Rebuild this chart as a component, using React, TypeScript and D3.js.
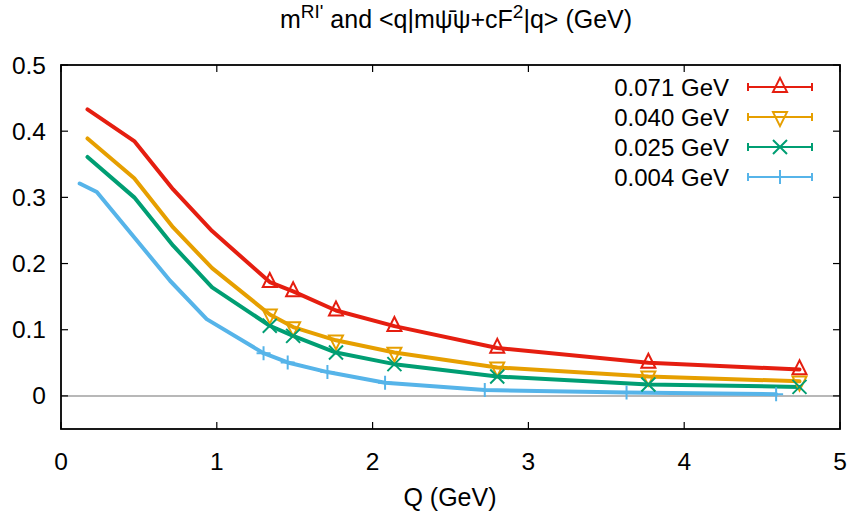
import React from "react";
import * as d3 from "d3";

const W = 853;
const H = 524;

const qMain = [0.17, 0.47, 0.72, 0.97, 1.34, 1.49, 1.765, 2.14, 2.8, 3.77, 4.74];
const qLight = [0.12, 0.23, 0.7, 0.935, 1.3, 1.455, 1.71, 2.08, 2.72, 3.63, 4.59];

const red071 = [0.433, 0.385, 0.312, 0.249, 0.172, 0.158, 0.129, 0.1055, 0.0725, 0.05, 0.04];
const orange040 = [0.389, 0.329, 0.2545, 0.193, 0.123, 0.104, 0.084, 0.0655, 0.043, 0.0295, 0.022];
const green025 = [0.361, 0.3, 0.227, 0.164, 0.106, 0.0907, 0.0655, 0.048, 0.0293, 0.0172, 0.0136];
const blue004 = [0.321, 0.308, 0.174, 0.116, 0.0645, 0.0505, 0.036, 0.02, 0.009, 0.005, 0.0025];

const markerStart = 4;

const legendLabels = ["0.071 GeV", "0.040 GeV", "0.025 GeV", "0.004 GeV"];
const xTicks = [0, 1, 2, 3, 4, 5];
const yTicks = [0, 0.1, 0.2, 0.3, 0.4, 0.5];
const yTickLabels = ["0", "0.1", "0.2", "0.3", "0.4", "0.5"];

type Series = { q: number[]; v: number[]; color: string; marker: string; label: string };

const series: Series[] = [
  { q: qMain, v: red071, color: "#e51e10", marker: "up", label: legendLabels[0] },
  { q: qMain, v: orange040, color: "#e69f00", marker: "down", label: legendLabels[1] },
  { q: qMain, v: green025, color: "#009e73", marker: "x", label: legendLabels[2] },
  { q: qLight, v: blue004, color: "#56b4e9", marker: "plus", label: legendLabels[3] },
];

const FONT = "'Liberation Sans', Arial, sans-serif";

function Marker({ kind, x, y, color }: { kind: string; x: number; y: number; color: string }) {
  const s = 7;
  const sw = 2;
  if (kind === "up") {
    const p = `M${x},${y - 1.3 * s} L${x - s},${y + 0.7 * s} L${x + s},${y + 0.7 * s} Z`;
    return <path d={p} fill="none" stroke={color} strokeWidth={sw} strokeLinejoin="miter" />;
  }
  if (kind === "down") {
    const p = `M${x},${y + 1.3 * s} L${x - s},${y - 0.7 * s} L${x + s},${y - 0.7 * s} Z`;
    return <path d={p} fill="none" stroke={color} strokeWidth={sw} strokeLinejoin="miter" />;
  }
  if (kind === "x") {
    const p = `M${x - s},${y - s} L${x + s},${y + s} M${x - s},${y + s} L${x + s},${y - s}`;
    return <path d={p} fill="none" stroke={color} strokeWidth={sw} />;
  }
  const p = `M${x - s},${y} L${x + s},${y} M${x},${y - s} L${x},${y + s}`;
  return <path d={p} fill="none" stroke={color} strokeWidth={sw} />;
}

export default function App() {
  const left = 61;
  const right = 840;
  const top = 65;
  const bottom = 429;
  const x = d3.scaleLinear().domain([0, 5]).range([left, right]);
  const y = d3.scaleLinear().domain([-0.05, 0.5]).range([bottom, top]);

  const line = d3
    .line<[number, number]>()
    .x((d) => x(d[0]))
    .y((d) => y(d[1]));

  const tickLen = 7;
  const legX0 = 748;
  const legX1 = 812;
  const legY0 = 87;
  const legDy = 30;

  return (
    <svg width={W} height={H} style={{ position: "absolute", left: 0, top: 0, background: "#fff" }} fontFamily={FONT}>
      <rect x={0} y={0} width={W} height={H} fill="#fff" />
      {/* zero line */}
      <line x1={left} x2={right} y1={y(0)} y2={y(0)} stroke="#a0a0a0" strokeWidth={1.5} />

      {/* ticks */}
      {xTicks.map((t) => (
        <g key={"xt" + t}>
          <line x1={x(t)} x2={x(t)} y1={bottom} y2={bottom - tickLen} stroke="#000" strokeWidth={1.2} />
          <line x1={x(t)} x2={x(t)} y1={top} y2={top + tickLen} stroke="#000" strokeWidth={1.2} />
          <text x={x(t)} y={470} fontSize={24.5} textAnchor="middle" fill="#000">
            {String(t)}
          </text>
        </g>
      ))}
      {yTicks.map((t, i) => (
        <g key={"yt" + t}>
          <line x1={left} x2={left + tickLen} y1={y(t)} y2={y(t)} stroke="#000" strokeWidth={1.2} />
          <line x1={right} x2={right - tickLen} y1={y(t)} y2={y(t)} stroke="#000" strokeWidth={1.2} />
          <text x={46} y={y(t) + 8.5} fontSize={24.5} textAnchor="end" fill="#000">
            {yTickLabels[i]}
          </text>
        </g>
      ))}

      {/* series lines */}
      {series.map((s, si) => (
        <path
          key={"l" + si}
          d={line(s.q.map((q, i) => [q, s.v[i]] as [number, number])) || ""}
          fill="none"
          stroke={s.color}
          strokeWidth={4}
          strokeLinejoin="round"
          strokeLinecap="round"
        />
      ))}
      {/* markers */}
      {series.map((s, si) => (
        <g key={"m" + si}>
          {s.q.slice(markerStart).map((q, i) => (
            <Marker key={i} kind={s.marker} x={x(q)} y={y(s.v[i + markerStart])} color={s.color} />
          ))}
        </g>
      ))}

      {/* frame */}
      <rect x={left} y={top} width={right - left} height={bottom - top} fill="none" stroke="#000" strokeWidth={1.8} />

      {/* legend */}
      {series.map((s, si) => {
        const ly = legY0 + si * legDy;
        return (
          <g key={"lg" + si}>
            <text x={729} y={ly + 8.5} fontSize={24} textAnchor="end" fill="#000">
              {s.label}
            </text>
            <line x1={legX0} x2={legX1} y1={ly} y2={ly} stroke={s.color} strokeWidth={2} />
            <line x1={legX0} x2={legX0} y1={ly - 4} y2={ly + 4} stroke={s.color} strokeWidth={2} />
            <line x1={legX1} x2={legX1} y1={ly - 4} y2={ly + 4} stroke={s.color} strokeWidth={2} />
            <Marker kind={s.marker} x={(legX0 + legX1) / 2} y={ly} color={s.color} />
          </g>
        );
      })}

      {/* title */}
      <text x={456} y={28} fontSize={25} textAnchor="middle" fill="#000">
        <tspan>m</tspan>
        <tspan fontSize={19} dy={-10}>RI'</tspan>
        <tspan dy={10}> and &lt;q|m{"\u03C8\u0304\u03C8"}+cF</tspan>
        <tspan fontSize={19} dy={-10}>2</tspan>
        <tspan dy={10}>|q&gt; (GeV)</tspan>
      </text>

      {/* x label */}
      <text x={450} y={506} fontSize={25} textAnchor="middle" fill="#000">
        Q (GeV)
      </text>
    </svg>
  );
}
